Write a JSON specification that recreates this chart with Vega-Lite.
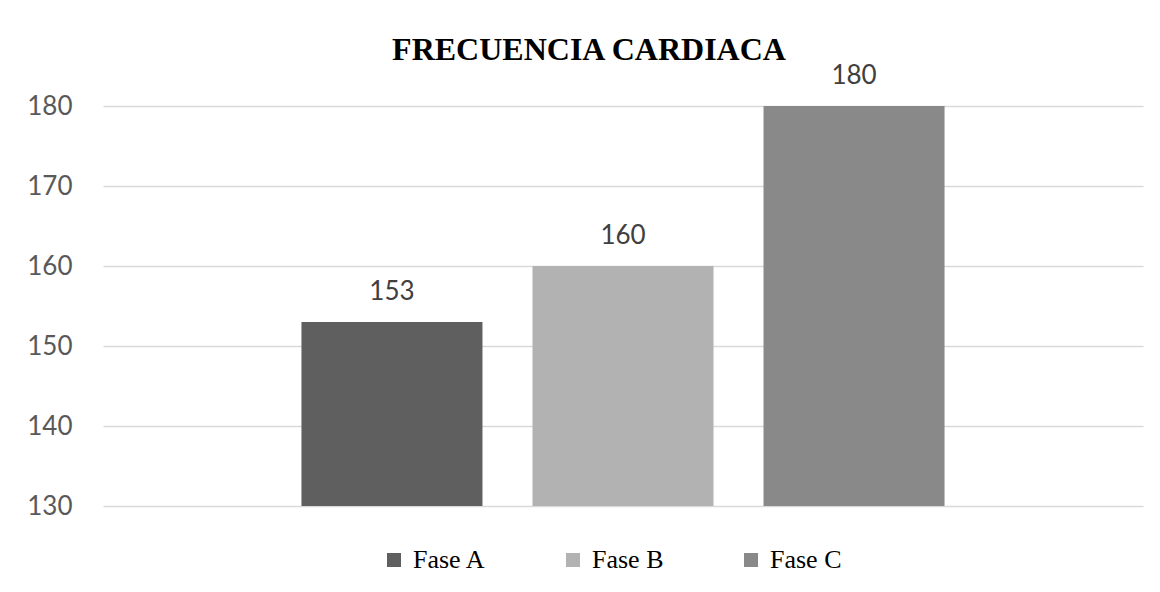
{
  "$schema": "https://vega.github.io/schema/vega-lite/v6.json",
  "autosize": "none",
  "width": 1040,
  "height": 400,
  "padding": {"left": 103, "top": 106, "right": 17, "bottom": 86},
  "background": "white",
  "title": {
    "text": "FRECUENCIA CARDIACA",
    "font": "Liberation Serif",
    "fontSize": 32,
    "fontWeight": "bold",
    "color": "#000000",
    "anchor": "middle",
    "frame": "group",
    "baseline": "alphabetic",
    "offset": -29,
    "dx": -34
  },
  "data": {
    "values": [
      {"fase": "Fase A", "valor": 153},
      {"fase": "Fase B", "valor": 160},
      {"fase": "Fase C", "valor": 180}
    ]
  },
  "encoding": {
    "x": {
      "field": "fase",
      "type": "nominal",
      "scale": {"paddingInner": 0.2165, "paddingOuter": 0.859},
      "axis": null
    },
    "y": {
      "field": "valor",
      "type": "quantitative",
      "scale": {"domain": [130, 180], "zero": false, "nice": false},
      "axis": {
        "values": [130, 140, 150, 160, 170, 180],
        "title": null,
        "domain": false,
        "ticks": false,
        "labelPadding": 31,
        "labelFont": "Lato",
        "labelFontSize": 26,
        "labelColor": "#595959",
        "gridColor": "#d9d9d9",
        "gridWidth": 1.3
      }
    }
  },
  "layer": [
    {
      "mark": {"type": "bar", "clip": true},
      "encoding": {
        "color": {
          "field": "fase",
          "type": "nominal",
          "scale": {"domain": ["Fase A", "Fase B", "Fase C"], "range": ["#5f5f5f", "#b2b2b2", "#898989"]},
          "legend": {
            "title": null,
            "orient": "none",
            "direction": "horizontal",
            "legendX": 278,
            "legendY": 441,
            "padding": 0,
            "symbolType": "square",
            "symbolSize": 196,
            "symbolStrokeWidth": 0,
            "labelFont": "Liberation Serif",
            "labelFontSize": 26,
            "labelColor": "#000000",
            "labelOffset": 6,
            "columnPadding": 74
          }
        }
      }
    },
    {
      "mark": {"type": "text", "baseline": "alphabetic", "dy": -22, "font": "Lato", "fontSize": 26, "color": "#404040"},
      "encoding": {
        "text": {"field": "valor", "type": "quantitative"}
      }
    }
  ],
  "config": {
    "view": {"stroke": null}
  }
}
